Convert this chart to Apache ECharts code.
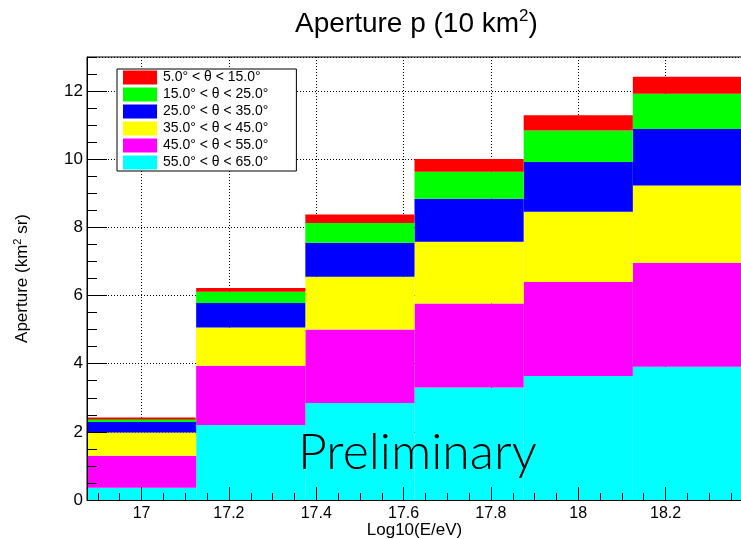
<!DOCTYPE html>
<html>
<head>
<meta charset="utf-8">
<script src="https://cdn.jsdelivr.net/npm/echarts@6/dist/echarts.min.js"></script>
<style>
  html, body { margin: 0; padding: 0; background: #fff; }
  #main { width: 741px; height: 539px; }
</style>
</head>
<body>
<div id="main"></div>
<script>
// bins of log10(E/eV), 0.25 wide, centred on these values
const bins = ['17.0', '17.25', '17.5', '17.75', '18.0', '18.25'];

// aperture per zenith band (km^2 sr), stacked
const theta5_15 = [0.03, 0.11, 0.25, 0.38, 0.45, 0.50];
const theta15_25 = [0.09, 0.33, 0.58, 0.79, 0.92, 1.03];
const theta25_35 = [0.31, 0.72, 1.00, 1.26, 1.46, 1.66];
const theta35_45 = [0.68, 1.12, 1.55, 1.81, 2.06, 2.27];
const theta45_55 = [0.94, 1.74, 2.15, 2.47, 2.76, 3.05];
const theta55_65 = [0.36, 2.20, 2.85, 3.30, 3.64, 3.91];

const bandNames = ['5.0° < θ < 15.0°', '15.0° < θ < 25.0°', '25.0° < θ < 35.0°',
                   '35.0° < θ < 45.0°', '45.0° < θ < 55.0°', '55.0° < θ < 65.0°'];
const bandColors = ['#ff0000', '#00ff00', '#0000ff', '#ffff00', '#ff00ff', '#00ffff'];
const bandValues = [theta5_15, theta15_25, theta25_35, theta35_45, theta45_55, theta55_65];

// tick labels
const xTicks = [17, 17.2, 17.4, 17.6, 17.8, 18, 18.2];
const yTicks = [0, 2, 4, 6, 8, 10, 12];

const xMin = 16.875, xMax = 18.375;
const yMin = 0, yMax = 13;

// minor ticks (0.05 on x, 0.5 on y)
const xMinor = [];
for (let i = 338; i <= 367; i++) xMinor.push(+(i * 0.05).toFixed(2));
const yMinor = [];
for (let i = 0; i <= 26; i++) yMinor.push(i * 0.5);

const font = 'Liberation Sans, Arial, Helvetica, sans-serif';
const dotted = {color: '#000', width: 1, type: [1, 2]};

const chart = echarts.init(document.getElementById('main'));

// cyan at the bottom, red on top
const series = [];
for (let k = bandNames.length - 1; k >= 0; k--) {
    series.push({
        name: bandNames[k],
        type: 'bar',
        stack: 'aperture',
        xAxisIndex: 0,
        yAxisIndex: 0,
        barWidth: '100%',
        barCategoryGap: '0%',
        // border in the same colour hides the seams between bins
        itemStyle: {color: bandColors[k], borderColor: bandColors[k], borderWidth: 2},
        emphasis: {disabled: true},
        data: bandValues[k]
    });
}

chart.setOption({
    animation: false,
    backgroundColor: '#fff',
    title: {
        text: '{a|Aperture p (10 km}{s|2}{a|)}',
        left: 290,
        top: 3,
        textStyle: {
            fontWeight: 'normal',
            rich: {
                a: {fontFamily: font, fontSize: 28, fontWeight: 'normal', color: '#000', lineHeight: 32},
                s: {fontFamily: font, fontSize: 17, fontWeight: 'normal', color: '#000', lineHeight: 32, verticalAlign: 'top', padding: [0, 0, 12, 0]}
            }
        }
    },
    legend: {
        orient: 'vertical',
        left: 117,
        top: 69,
        padding: [0, 28, 0, 6],
        itemWidth: 32,
        itemHeight: 12,
        itemGap: 0,
        icon: 'rect',
        backgroundColor: '#fff',
        borderColor: '#000',
        borderWidth: 1,
        z: 20,
        selectedMode: false,
        textStyle: {fontFamily: font, fontSize: 14, color: '#000', lineHeight: 17, padding: [0, 0, 0, 2]},
        data: bandNames
    },
    grid: {
        left: 87, right: -1, top: 57, bottom: 39,
        outerBoundsMode: 'none',
        containLabel: false,
        show: true, borderColor: '#000', borderWidth: 1, backgroundColor: 'transparent'
    },
    xAxis: [
        {   // bins for the bars
            type: 'category', data: bins, show: false, position: 'bottom'
        },
        {   // grid lines, under the bars
            type: 'value', min: xMin, max: xMax, position: 'bottom',
            minInterval: 0.2, maxInterval: 0.2, z: 0,
            axisLine: {show: false}, axisTick: {show: false}, axisLabel: {show: false},
            splitLine: {show: true, lineStyle: dotted}
        },
        {   // major ticks + labels, above the bars
            type: 'value', min: xMin, max: xMax, position: 'bottom', z: 10,
            name: 'Log10(E/eV)', nameLocation: 'middle', nameGap: 22, nameMoveOverlap: false,
            nameTextStyle: {fontFamily: font, fontSize: 17, color: '#000'},
            axisLine: {show: true, onZero: false, lineStyle: {color: '#000', width: 1}},
            axisTick: {show: true, inside: true, length: 13, customValues: xTicks, lineStyle: {color: '#000'}},
            axisLabel: {show: true, customValues: xTicks, margin: 6, fontFamily: font, fontSize: 16, color: '#000'},
            splitLine: {show: false}
        },
        {   // minor ticks
            type: 'value', min: xMin, max: xMax, position: 'bottom', z: 10,
            axisLine: {show: false, onZero: false},
            axisTick: {show: true, inside: true, length: 7, customValues: xMinor, lineStyle: {color: '#000'}},
            axisLabel: {show: false},
            splitLine: {show: false}
        }
    ],
    yAxis: [
        {   // grid lines, under the bars
            type: 'value', min: yMin, max: yMax, interval: 2, position: 'left', z: 0,
            axisLine: {show: false}, axisTick: {show: false}, axisLabel: {show: false},
            splitLine: {show: true, lineStyle: dotted}
        },
        {   // major ticks + labels
            type: 'value', min: yMin, max: yMax, position: 'left', z: 10,
            name: '{a|Aperture (km}{s|2}{a| sr)}', nameLocation: 'middle', nameGap: 55, nameMoveOverlap: false,
            nameTextStyle: {
                rich: {
                    a: {fontFamily: font, fontSize: 17, color: '#000', lineHeight: 20},
                    s: {fontFamily: font, fontSize: 11, color: '#000', lineHeight: 20, verticalAlign: 'top', padding: [0, 0, 8, 0]}
                }
            },
            axisLine: {show: true, onZero: false, lineStyle: {color: '#000', width: 1}},
            axisTick: {show: true, inside: true, length: 20, customValues: yTicks, lineStyle: {color: '#000'}},
            axisLabel: {show: true, customValues: yTicks, margin: 4, fontFamily: font, fontSize: 17, color: '#000'},
            splitLine: {show: false}
        },
        {   // minor ticks
            type: 'value', min: yMin, max: yMax, position: 'left', z: 10,
            axisLine: {show: false, onZero: false},
            axisTick: {show: true, inside: true, length: 10, customValues: yMinor, lineStyle: {color: '#000'}},
            axisLabel: {show: false},
            splitLine: {show: false}
        }
    ],
    graphic: [{
        type: 'text',
        x: 298,
        y: 453,
        z: 30,
        style: {
            text: 'Preliminary',
            fill: '#000',
            fontFamily: 'Lato, sans-serif',
            fontWeight: 300,
            fontSize: 50,
            verticalAlign: 'middle',
            align: 'left'
        }
    }],
    series: series
});
</script>
</body>
</html>
